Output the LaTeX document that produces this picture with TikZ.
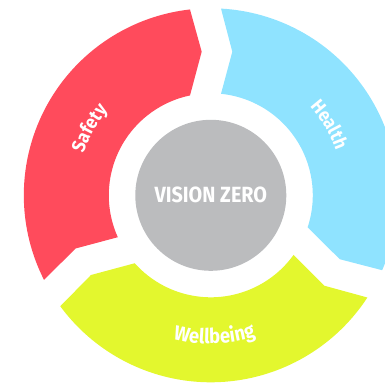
\documentclass[tikz,border=0pt]{standalone}
\usepackage{fontspec}
\setmainfont{Fira Sans}
\newfontfamily\labelfont{Fira Sans}[FakeStretch=0.9]
\usetikzlibrary{decorations.text}
\definecolor{segred}{HTML}{FF4B5C}
\definecolor{segblue}{HTML}{8FE3FF}
\definecolor{segyellow}{HTML}{E3F72E}
\definecolor{hubgray}{HTML}{BBBCBE}
\tikzset{
  hub/.style={circle, fill=hubgray, minimum size=151pt, inner sep=0pt, text=white,
    font=\labelfont\bfseries\fontsize{22}{22}\selectfont},
  arclabel/.style 2 args={decorate, decoration={text along path, text align=center,
    text={|\labelfont\bfseries\fontsize{#2}{#2}\selectfont\color{white}|#1}}}
}
\begin{document}
\begin{tikzpicture}[x=1pt,y=1pt]
\useasboundingbox (-210.8,-187.7) rectangle (174.2,195.3);
\clip (-210.8,-187.7) rectangle (174.2,195.3);
\foreach \c/\r in {segred/0, segblue/-120, segyellow/120}{
  \fill[\c, rotate=\r] (96.39:187) arc[start angle=96.39, end angle=206.87, radius=187]
    -- (201.48:145.2) -- (204.26:102)
    arc[start angle=204.26, end angle=101.77, radius=102]
    -- (93.63:143.9) -- cycle;
}
\node[hub] (vz) at (0,0) {VISION ZERO};
\path[arclabel={Safety}{19}] (191:134) arc[start angle=191, end angle=111, radius=134];
\path[arclabel={Health}{19}] (70.8:133) arc[start angle=70.8, end angle=-9.2, radius=133];
\path[arclabel={Wellbeing}{20.5}] (-128.5:148.5) arc[start angle=-128.5, end angle=-48.5, radius=148.5];
\end{tikzpicture}
\end{document}
